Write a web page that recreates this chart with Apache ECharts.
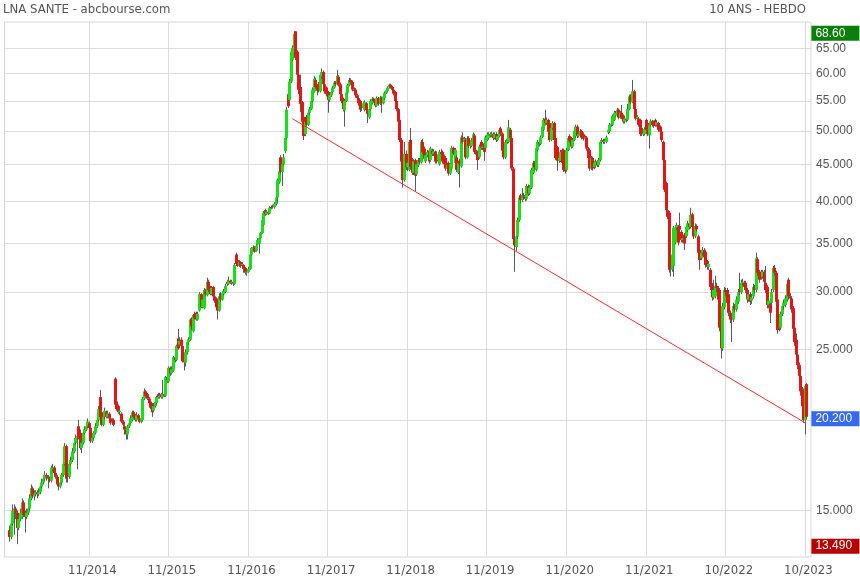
<!DOCTYPE html>
<html><head><meta charset="utf-8">
<script src="https://cdn.jsdelivr.net/npm/echarts@6/dist/echarts.min.js"></script>
<style>html,body{margin:0;padding:0;background:#fff}#c{width:860px;height:580px}</style>
</head><body><div id="c"></div>
<script>
const chartTitle = 'LNA SANTE - abcbourse.com';
const chartPeriod = '10 ANS - HEBDO';
const firstWeek = '2013-11-11';
// weekly candles: [open, close, low, high]
const weeks1 = [[14.1,13.8,13.6,14.3],[13.8,14.4,13.7,14.6],[14.4,15.0,14.3,15.3],[15.0,15.1,13.9,15.3],[15.1,14.9,14.6,15.2],[14.9,14.2,13.49,15.0],[14.2,14.6,14.1,14.8],[14.6,14.9,14.5,15.1],[14.7,15.4,14.6,15.6],[15.4,14.8,14.7,15.5],
[14.8,14.7,14.0,15.0],[14.7,14.9,14.6,15.1],[14.9,15.1,14.8,15.3],[15.1,15.6,15.0,15.8],[15.6,16.1,15.5,16.3],[16.1,15.7,15.6,16.2],[15.7,15.8,15.5,16.0],[15.8,15.9,15.7,16.0],[15.9,15.8,15.6,16.0],[15.8,15.9,15.7,16.1],
[15.9,16.2,15.8,16.3],[16.2,16.4,16.1,16.6],[16.4,16.6,16.3,16.8],[16.6,16.8,16.5,17.0],[16.8,16.7,16.5,16.9],[16.7,16.6,16.1,16.8],[16.6,16.5,16.4,16.7],[16.5,17.2,16.4,17.3],[17.1,17.2,17.0,17.4],[17.2,16.9,16.8,17.3],
[16.9,16.7,16.6,17.0],[16.7,16.3,16.2,16.8],[16.3,16.2,16.0,16.4],[16.2,16.4,16.1,16.6],[16.4,16.8,16.3,16.9],[16.8,17.4,16.7,17.5],[17.4,18.4,17.3,18.6],[18.4,16.6,16.4,18.5],[16.9,16.7,16.4,17.2],[16.7,17.4,16.6,17.6],
[17.4,17.6,17.3,17.8],[17.6,18.1,17.5,18.3],[18.1,18.6,18.0,18.8],[18.6,18.9,18.5,19.1],[18.9,19.0,17.1,19.3],[19.6,18.9,18.8,20.0],[19.2,18.3,18.2,19.4],[18.3,18.6,18.0,18.8],[18.6,19.2,18.5,19.4],[19.2,19.4,19.1,19.6],
[19.4,19.6,19.3,19.8],[19.6,19.9,19.5,20.1]];
const weeks2 = [[19.8,19.5,19.3,19.9],[19.5,18.7,18.6,19.6],[18.7,18.9,18.6,19.1],[18.9,19.2,18.8,19.3],[19.2,19.6,19.1,19.8],[19.6,20.0,19.5,20.1],[20.0,20.7,19.9,20.9],[21.5,20.2,20.1,22.0],[20.5,19.7,19.6,20.7],[19.7,20.2,19.6,20.4],
[20.2,20.6,20.0,20.8],[20.5,20.2,20.1,20.6],[20.2,20.4,20.1,20.6],[20.4,20.1,20.0,20.5],[20.1,19.8,19.7,20.2],[19.8,19.9,19.7,20.1],[20.0,19.7,19.6,20.1],[22.8,21.0,20.9,22.9],
[21.2,20.7,20.6,21.4],[20.9,20.5,20.4,21.0],[20.5,20.6,20.3,20.8],[20.4,19.9,19.8,20.5],[19.9,19.7,19.6,20.0],[19.6,19.4,19.1,19.7],[19.4,19.1,18.8,19.5],[19.1,19.6,18.8,19.7],[19.6,19.8,19.5,20.0],[19.8,20.1,19.7,20.3],
[20.0,20.5,19.9,20.6],[20.5,20.2,20.1,20.6],[20.3,20.0,19.9,20.4],[20.0,20.3,19.9,20.5],[20.3,20.1,19.9,20.4],[20.1,19.9,19.8,20.2],[19.9,20.1,19.8,20.3],[20.0,21.4,19.9,21.5],[21.4,21.9,21.3,22.1],[21.9,21.6,21.5,22.0],
[21.7,21.4,21.3,21.8],[21.4,21.1,21.0,21.5],[21.2,20.8,20.7,21.3],[21.0,20.5,20.2,21.1],[20.6,20.9,20.5,21.1],[20.9,21.2,20.8,21.3],[21.1,21.5,21.0,21.6],[21.7,21.5,21.4,21.8],[21.5,21.6,21.4,21.8],[21.7,21.5,21.4,21.8],
[21.5,21.7,21.4,22.7],[21.7,21.6,21.5,21.9],[21.6,22.9,21.5,23.0],[22.9,22.7,22.5,23.1]];
const weeks3 = [[22.6,23.6,22.5,23.7],[23.6,23.2,23.0,23.7],[23.2,23.5,23.1,23.7],[23.4,24.4,23.3,24.5],[24.4,24.2,24.0,24.6],[24.2,25.3,24.1,25.4],[25.9,25.1,25.0,26.7],[25.4,25.7,25.3,26.0],[25.8,25.3,25.2,26.0],[25.3,24.1,24.0,25.4],
[24.6,24.0,23.4,24.7],[24.0,24.8,23.7,25.0],[24.8,25.6,24.6,25.8],[25.6,25.8,25.4,26.0],[25.8,27.5,25.7,27.6],[27.5,26.9,26.6,27.7],[26.5,27.9,26.4,28.0],[28.0,27.6,27.5,28.2],[28.1,27.5,27.4,28.2],[27.5,28.0,27.4,28.2],
[28.3,29.8,28.2,30.0],[29.8,28.6,28.5,29.9],
[28.6,29.3,28.5,29.5],[28.5,30.2,28.4,30.4],[30.1,29.8,29.6,30.3],[29.7,31.0,29.6,31.4],[31.0,30.2,30.0,31.2],[30.5,29.8,29.7,30.6],[29.8,30.4,29.7,30.6],[30.5,29.6,29.5,30.6],
[29.6,29.2,29.0,29.7],[29.4,28.6,28.5,29.5],[29.1,28.3,27.5,29.2],[28.3,29.6,28.2,29.9],[29.6,29.3,29.1,30.0],[29.3,29.9,29.2,30.1],[29.8,30.1,29.7,30.3],[30.0,30.6,29.9,30.8],[31.0,30.8,30.6,31.2],[30.8,31.1,30.7,31.5],
[31.1,30.9,30.8,31.2],[30.9,31.0,30.7,31.2],[31.0,30.8,30.6,31.1],[30.8,32.7,30.7,32.9],[33.8,32.8,32.6,34.0],[33.2,32.6,32.5,33.4],[32.6,33.0,32.5,33.2],[33.0,32.6,32.4,33.1],[32.7,32.8,32.5,33.0],[32.7,32.3,31.9,32.8],
[32.4,31.9,31.7,32.5],[31.9,32.0,31.6,32.2]];
const weeks4 = [[32.0,32.3,31.9,32.5],[32.3,33.8,32.2,34.0],[33.8,34.5,33.7,34.6],[34.3,34.6,34.2,34.8],[34.6,34.1,34.0,34.7],[34.2,34.8,34.1,35.0],[34.9,35.4,34.8,35.6],[35.0,35.6,33.9,35.7],[35.6,36.2,35.5,36.3],[36.2,37.7,36.1,37.8],
[37.1,38.6,37.0,38.8],[38.9,38.4,38.2,39.1],[38.4,38.7,38.3,38.9],[38.7,38.5,38.3,39.0],[38.5,39.2,38.4,39.4],[39.3,39.2,39.0,39.5],[39.4,39.3,39.1,39.6],[39.3,39.7,39.1,39.9],[39.7,40.5,39.5,40.8],[40.5,42.8,39.8,43.0],
[42.5,44.0,42.3,44.3],[46.0,43.9,43.6,46.3],[43.9,45.0,42.0,45.5],[45.0,46.0,44.8,46.5],[46.9,48.9,46.6,49.3],[48.9,53.5,48.7,54.0],[56.2,54.1,53.8,56.8],[55.2,58.5,54.8,59.0],[58.5,64.3,58.2,64.8],[62.7,65.1,62.4,65.6],
[65.1,68.0,64.6,68.6],[68.6,63.1,62.6,68.6],[64.3,59.8,59.4,64.6],[59.8,57.0,56.2,60.5],
[57.5,54.5,53.1,59.8],[54.8,51.5,51.2,55.0],[52.3,49.2,48.6,52.5],[49.5,51.5,49.2,52.0],[52.3,51.0,50.6,52.6],[51.0,53.0,50.8,53.3],[53.0,53.6,52.6,54.0],[53.6,55.0,53.4,55.4],[55.0,57.0,54.8,57.4],[56.7,59.0,56.5,59.5],
[58.8,57.5,57.2,59.2],[57.5,56.8,56.0,57.9],[58.0,56.9,56.5,58.4],[56.7,59.8,56.5,60.2],[59.4,60.3,59.0,61.0],[60.3,58.0,57.8,60.6],[58.0,56.7,56.3,58.3],[57.4,56.2,55.8,57.6]];
const weeks5 = [[56.6,55.2,53.0,56.8],[55.2,56.0,54.8,56.3],[56.0,56.6,55.7,56.9],[56.6,57.4,56.4,57.7],[57.4,58.3,57.2,58.6],[58.3,58.0,57.7,58.6],[58.0,59.6,57.8,60.7],[59.4,58.0,57.6,59.7],[58.0,56.2,55.9,58.3],[56.2,55.0,54.6,56.5],
[55.4,53.6,53.2,55.6],[53.4,55.0,50.7,55.3],[55.0,56.5,54.8,56.8],[56.5,57.8,56.3,58.1],[57.8,58.8,57.6,59.2],[58.8,58.4,58.0,59.1],[58.4,57.0,56.7,58.7],[57.0,56.8,56.3,57.4],[57.0,56.0,55.6,57.3],[56.0,55.5,55.1,56.3],
[55.5,54.6,54.2,55.8],[55.0,53.5,53.1,55.2],[54.4,53.8,53.3,54.6],[53.8,54.6,53.6,54.9],[53.5,54.8,53.2,55.1],[54.6,53.4,53.0,54.8],[53.4,52.8,51.3,53.6],[52.2,53.6,52.0,53.9],[53.6,55.0,53.4,55.3],[54.6,55.4,54.4,55.7],
[55.4,55.0,54.7,55.6],[55.0,54.2,53.9,55.3],[54.2,55.5,54.0,55.8],[55.5,54.5,54.2,55.7],[54.5,55.6,54.3,55.9],[55.6,54.6,53.0,55.8],[54.6,55.8,54.4,56.0],[55.5,56.4,55.3,56.7],[56.4,56.9,56.2,57.2],[56.8,57.4,56.6,57.6],
[57.4,57.9,57.2,58.1],[57.9,57.5,57.2,58.1],[57.5,57.0,56.7,57.7],[57.0,56.3,56.0,57.2],[56.6,55.0,54.7,56.8],[55.0,53.6,53.2,55.2],[53.6,51.5,51.2,53.8],[51.8,48.6,48.3,52.0],
[48.6,45.4,45.0,48.9],[45.6,42.8,41.8,46.0],[42.8,46.5,42.6,48.3],[46.5,44.6,44.2,47.0]];
const weeks6 = [[44.6,45.2,44.0,45.6],[44.2,48.3,44.0,48.6],[48.6,44.6,44.3,50.5],[45.6,43.8,43.5,45.9],[43.8,45.4,43.5,45.7],[45.6,43.4,41.3,45.8],[43.6,45.0,43.4,45.3],[44.9,45.6,44.6,45.9],[45.6,45.3,45.0,45.9],[45.3,48.3,45.1,48.6],
[48.3,46.8,46.5,48.8],[47.3,45.8,45.5,47.6],[45.4,46.3,45.2,46.6],[46.3,46.8,46.0,47.1],[47.0,45.4,45.1,47.3],[45.6,47.3,45.4,47.6],[47.0,46.5,46.2,47.3],[46.5,46.9,46.2,47.2],[46.8,45.4,45.1,47.0],[46.4,45.4,45.1,46.9],
[45.6,46.4,45.4,46.6],[45.0,46.8,44.8,47.1],[46.8,46.5,46.2,47.2],[46.8,45.4,45.1,47.0],[46.2,45.0,44.7,46.4],[45.9,44.4,44.1,46.1],[44.4,44.9,44.1,45.2],[45.2,43.7,43.4,45.4],[43.7,45.0,43.5,45.3],[44.4,47.4,44.2,47.7],
[47.4,46.6,46.3,47.6],[45.2,47.1,45.0,47.4],[46.0,44.2,43.9,46.3],[43.8,45.2,43.6,45.5],[45.5,45.0,41.8,45.8],[44.7,49.0,44.5,49.3],[49.0,48.3,48.0,49.8],[48.3,48.8,48.0,49.1],[48.6,46.0,45.7,48.9],[46.0,48.9,45.8,49.2],
[48.9,47.7,47.4,49.2],[47.7,47.9,47.3,48.2],[47.7,48.6,47.5,48.9],[48.6,49.5,48.4,49.8],[49.3,46.8,46.5,49.6],[46.8,46.4,46.0,47.1],[46.8,45.6,44.2,47.0],[46.0,47.6,45.8,47.9],[48.3,47.4,47.1,48.6],[47.4,47.6,47.1,47.9],
[48.1,46.8,45.5,48.3],[47.4,49.0,47.2,49.3]];
const weeks7 = [[48.6,49.5,48.4,49.8],[48.9,49.5,48.7,49.8],[49.5,49.3,49.0,49.8],[49.3,49.6,49.0,49.9],[49.5,48.9,48.6,49.8],[48.9,49.5,48.7,49.8],[49.5,48.6,48.3,49.8],[48.6,49.2,48.4,49.5],[49.2,50.2,49.0,50.5],[50.4,49.6,49.3,50.7],
[49.6,47.0,46.7,49.8],[47.0,46.0,45.7,47.3],[46.0,48.3,45.8,48.6],[48.3,48.8,48.0,49.2],[48.3,50.6,48.1,51.8],[50.2,48.9,48.6,50.5],[48.9,44.4,44.1,49.9],[44.4,35.5,35.0,44.6],[35.5,34.8,32.0,36.0],[34.6,35.8,34.2,36.2],
[35.8,37.7,35.5,38.0],[37.7,40.5,37.5,40.8],[40.7,40.2,39.8,41.0],[40.2,40.8,39.9,41.7],[40.8,40.6,40.2,41.1],[40.6,40.3,40.0,40.9],[40.3,42.0,40.1,42.3],[42.0,41.0,40.7,42.2],[41.0,41.8,40.8,42.1],[41.8,44.2,41.6,44.5],
[43.8,45.2,43.6,45.5],[45.2,44.6,44.2,45.5],[44.2,47.4,44.0,47.7],[47.1,48.3,46.9,48.6],[48.3,48.0,47.6,48.6],[48.0,49.0,47.8,49.3],[49.1,50.7,48.9,51.0],[50.2,51.8,50.0,52.1],[52.0,51.3,50.9,53.5],[51.3,51.8,51.0,52.2],
[51.8,49.9,49.6,52.0],[51.3,48.6,48.3,51.5],[48.6,50.5,48.4,50.8],[50.5,51.3,50.2,51.6],[51.3,48.6,48.3,51.5],[48.9,45.9,45.6,49.1],[47.5,45.5,44.1,47.7],[45.5,45.9,45.2,46.3],[45.5,46.8,45.3,47.1],[47.1,45.2,44.9,47.3],
[47.1,44.2,43.9,47.3],[44.2,44.0,43.7,44.6]];
const weeks8 = [[44.2,47.1,44.0,47.4],[47.1,48.9,46.9,49.2],[49.2,48.5,48.2,49.5],[48.9,47.6,47.3,49.1],[47.6,48.6,47.4,48.9],[48.6,50.0,48.4,50.3],[49.2,50.7,49.0,51.0],[50.7,49.2,48.9,51.0],[49.2,49.5,49.0,49.9],[49.2,50.0,49.0,50.3],
[50.0,49.0,48.7,50.2],[49.5,48.8,48.5,49.8],[48.8,49.0,48.5,49.3],[49.0,47.3,47.0,49.2],[47.3,45.9,45.6,47.5],[47.1,44.4,44.1,47.3],[44.4,45.9,44.2,46.2],[45.9,44.4,44.1,46.1],[44.6,45.2,44.3,45.5],[44.8,45.4,44.5,45.7],
[45.4,44.9,44.6,45.6],[44.9,45.6,44.6,45.9],[45.6,48.3,45.4,48.6],[48.3,48.6,48.0,48.9],[48.6,48.3,48.0,48.8],[48.3,48.5,48.0,48.8],[48.3,49.0,48.1,49.3],[49.8,50.2,49.5,50.5],[49.9,51.0,49.7,51.3],[51.0,51.2,50.7,51.6],
[51.0,52.4,50.8,52.7],[51.8,53.0,51.6,53.3],[52.5,53.0,52.3,53.3],[53.0,53.5,52.7,53.8],[53.5,52.2,51.9,53.7],[52.2,53.0,52.0,53.3],[53.0,52.2,51.9,54.3],[52.5,51.5,51.2,52.7],[51.5,52.0,51.2,52.3],[52.0,51.8,51.4,52.3],
[51.8,53.6,51.6,54.5],[53.6,55.8,53.4,56.1],[55.8,54.8,54.5,56.2],[54.8,56.7,54.6,58.8],[56.7,53.6,53.3,57.0],[53.6,52.0,51.7,53.8],[52.0,52.3,51.6,52.6],[52.0,51.0,50.7,52.2],[51.8,49.5,49.2,52.0],[50.5,49.5,49.2,50.7],
[49.5,49.7,49.2,50.0],[49.5,50.3,49.3,50.6]];
const weeks9 = [[51.8,50.2,49.9,52.0],[51.3,49.5,49.2,51.5],[49.3,51.0,47.3,51.3],[51.0,51.6,50.7,51.9],[51.5,51.0,50.7,51.8],[51.5,50.8,50.5,51.7],[51.8,51.0,50.7,52.0],[51.0,51.4,50.7,51.7],[51.3,50.2,49.9,51.5],[50.7,49.9,49.6,50.9],
[49.9,48.6,48.3,50.1],[48.3,45.6,45.3,48.5],[45.6,41.5,41.2,45.8],[42.4,38.9,38.6,42.6],[38.9,38.1,37.8,39.1],[38.6,32.2,31.9,38.8],[33.5,32.5,31.5,33.8],[32.2,33.8,32.0,34.1],[32.6,36.8,31.5,37.0],[35.1,36.8,34.9,37.1],
[36.8,37.1,36.5,37.4],[36.9,35.1,34.8,37.1],[37.0,36.6,36.3,38.6],[36.3,35.4,35.1,36.5],[35.4,35.6,35.1,35.9],[36.0,35.0,34.3,36.2],[35.8,36.9,35.6,37.2],[36.5,37.3,36.3,37.6],[37.3,36.9,36.6,37.6],[36.9,38.3,36.7,39.2],
[38.4,36.9,36.6,38.6],[37.0,35.8,35.5,37.2],[35.8,37.0,35.6,37.3],[37.0,36.6,36.3,37.2],[35.8,34.0,33.7,36.0],[34.3,33.2,32.2,34.5],[33.4,34.0,33.2,34.3],[34.0,34.3,33.7,34.6],[34.3,33.5,33.2,34.5],[34.1,32.7,32.4,34.3],
[33.0,32.5,32.2,33.2],[32.5,32.8,32.2,33.1],[32.2,30.5,30.2,32.4],[30.7,29.5,29.2,30.9],[29.5,30.2,29.3,31.2],[29.6,30.6,29.4,31.6],[30.6,30.4,30.0,30.9],[30.4,29.3,29.0,30.6],[30.2,26.8,26.5,30.4],[27.0,25.1,24.3,27.2],
[25.1,28.7,24.9,29.0],[28.6,30.2,28.4,30.5]];
const weeks10 = [[30.2,30.0,29.6,30.4],[30.2,29.0,28.7,30.4],[29.8,28.1,27.8,30.0],[28.1,27.5,27.2,28.3],[27.8,27.5,25.6,28.0],[27.5,28.7,27.3,29.0],[28.7,28.4,28.1,28.9],[28.4,29.3,28.2,29.6],[29.1,30.0,28.9,30.3],[30.2,30.0,29.7,31.9],
[30.0,30.9,29.8,31.2],[30.9,31.0,30.6,31.3],[30.9,30.5,30.2,31.1],[30.9,30.2,29.9,31.1],[30.2,29.3,29.0,30.4],[29.3,29.8,29.1,30.0],[29.8,29.1,28.8,30.0],[29.2,29.5,28.9,29.8],[29.6,30.5,29.4,30.8],[30.5,30.2,29.9,30.7],
[30.2,33.4,30.0,34.0],[33.3,31.9,31.6,33.5],[32.0,31.2,30.9,32.2],[32.0,31.5,31.2,32.2],[31.5,32.0,31.3,32.2],[32.0,31.0,30.7,32.2],[30.9,30.2,29.9,32.6],[30.5,28.8,28.5,30.7],[28.8,29.2,28.5,29.5],[28.9,28.1,27.2,29.1],
[29.0,30.0,28.8,30.3],[30.2,32.4,30.0,32.6],[32.4,31.9,31.6,32.7],[31.9,29.1,28.8,32.1],[29.3,26.6,26.3,29.5],[27.5,26.8,26.5,27.7],[26.8,28.0,26.6,28.2],[28.0,28.7,27.8,29.0],[28.7,29.0,28.4,29.3],[28.8,29.4,28.6,29.7],
[29.3,30.8,29.1,31.0],[31.2,29.6,29.3,31.4],[29.6,29.4,29.0,29.9],[29.4,28.4,28.1,29.6],[28.5,26.7,26.4,28.7],[26.8,25.6,25.3,27.0],[25.8,24.6,24.3,26.3],[24.6,23.8,23.5,24.8],[23.8,23.0,22.6,24.0],[23.0,21.9,21.6,23.2],
[22.0,20.9,20.6,22.2],[21.9,20.0,19.8,22.1],[20.0,22.3,19.1,22.4],[22.4,20.2,20.1,22.5]];

const yGridValues = [15,20,25,30,35,40,45,50,55,60,65];
const yLabelValues = [15,25,30,35,40,45,50,55,60,65];
const periodHigh = 68.60, periodLow = 13.49, lastClose = 20.20;
const trendFrom = {week: 185, price: 52.0};
const trendTo = {week: 520, price: 19.83};
const labelEveryWeeks = 52;

const candles = [].concat(weeks1, weeks2, weeks3, weeks4, weeks5, weeks6, weeks7, weeks8, weeks9, weeks10);
const start = Date.parse(firstWeek + 'T00:00:00Z');
const categories = candles.map((c, i) => new Date(start + i * 7 * 86400000).toISOString().slice(0, 10));
const seriesData = candles.map((c, i) => [i, c[0], c[1], c[2], c[3]]);

const narrow = "'DejaVu Sans Condensed','Liberation Sans Narrow','Arial Narrow',sans-serif";
const plain = "'Liberation Sans',Arial,sans-serif";
const yMin = periodLow * 0.96, yMax = periodHigh * 1.03;
const fmtPrice = v => (v >= 55 ? v.toFixed(2) : v.toFixed(3));
const showWeek = idx => idx > 0 && idx % labelEveryWeeks === 0;

function renderCandle(params, api) {
  const i = api.value(0);
  const o = api.value(1), c = api.value(2), l = api.value(3), h = api.value(4);
  const pO = api.coord([i, o]), pC = api.coord([i, c]);
  const pL = api.coord([i, l]), pH = api.coord([i, h]);
  const cx = Math.round(pO[0]);
  const top = Math.min(pO[1], pC[1]);
  const hgt = Math.max(Math.abs(pO[1] - pC[1]), 1);
  const up = c >= o;
  return {
    type: 'group',
    children: [
      {type: 'line', shape: {x1: cx + 0.5, y1: pH[1], x2: cx + 0.5, y2: pL[1]}, style: {stroke: '#5a5a5a', lineWidth: 1}},
      {type: 'rect', shape: {x: cx - 1, y: top, width: 3, height: hgt}, style: {fill: up ? '#16e016' : '#e51515'}}
    ]
  };
}

const hidden = {color: 'rgba(0,0,0,0)', width: 1, type: 'solid'};
const boxLabel = (text, bg) => ({
  show: true, position: 'end', distance: 5, offset: [0, 2],
  formatter: text, color: '#fff', backgroundColor: bg, opacity: 1,
  fontSize: 12, fontFamily: plain,
  padding: [2, 4, 1, 4], width: 40
});

const chart = echarts.init(document.getElementById('c'), null, {renderer: 'canvas'});
chart.setOption({
  animation: false,
  backgroundColor: '#fff',
  title: [
    {text: chartTitle, left: 3, top: 3, padding: 0, textStyle: {fontSize: 13, fontWeight: 'normal', color: '#555', fontFamily: narrow}},
    {text: chartPeriod, right: 54, top: 3, padding: 0, textStyle: {fontSize: 13, fontWeight: 'normal', color: '#555', fontFamily: narrow}}
  ],
  grid: [
    {left: 9.3, right: 53.6, top: 22, bottom: 23},
    {left: 4.5, right: 49, top: 22, bottom: 23, show: true, borderColor: '#d6d6d6', borderWidth: 1, backgroundColor: 'transparent'}
  ],
  xAxis: [
    {type: 'category', gridIndex: 0, data: categories, boundaryGap: false,
     axisLine: {show: false}, axisTick: {show: false},
     axisLabel: {interval: showWeek, formatter: v => v.slice(5, 7) + '/' + v.slice(0, 4), fontFamily: narrow, fontSize: 13, color: '#555', margin: 7, padding: [0, 0, 0, 7]},
     splitLine: {show: true, interval: showWeek, lineStyle: {color: '#dcdcdc', width: 1}}},
    {type: 'value', gridIndex: 1, show: false, min: 0, max: 1}
  ],
  yAxis: [
    {type: 'log', gridIndex: 0, min: yMin, max: yMax, show: false},
    {type: 'log', gridIndex: 1, position: 'right', min: yMin, max: yMax,
     axisLine: {show: false}, axisTick: {show: false, customValues: yGridValues},
     axisLabel: {customValues: yLabelValues, formatter: fmtPrice, color: '#555', fontSize: 12, margin: 5, padding: [0, 0, 6, 0], fontFamily: plain},
     splitLine: {show: true, lineStyle: {color: '#dcdcdc', width: 1}}}
  ],
  series: [{
    type: 'custom', xAxisIndex: 0, yAxisIndex: 0,
    renderItem: renderCandle, data: seriesData,
    encode: {x: 0, y: [1, 2, 3, 4]},
    markLine: {
      silent: true, symbol: ['none', 'none'], animation: false, z: 10,
      data: [
        [{coord: [categories[trendFrom.week], trendFrom.price], lineStyle: {color: '#ff2a2a', width: 1, type: 'solid'}, label: {show: false}},
         {coord: [categories[trendTo.week], trendTo.price]}],
        {yAxis: periodHigh, lineStyle: hidden, label: boxLabel(periodHigh.toFixed(2), '#0a7f0a')},
        {yAxis: lastClose, lineStyle: hidden, label: boxLabel(lastClose.toFixed(3), '#3468f5')},
        {yAxis: periodLow, lineStyle: hidden, label: boxLabel(periodLow.toFixed(3), '#b80000')}
      ]
    }
  }]
});
</script></body></html>
